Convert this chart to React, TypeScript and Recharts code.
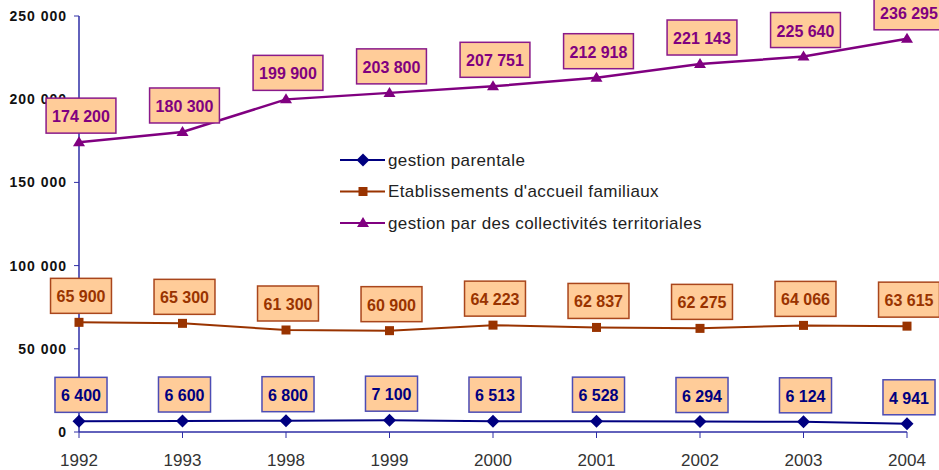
import React from 'react'
import { LineChart, Line, XAxis, YAxis, LabelList } from 'recharts'

const years = ['1992', '1993', '1998', '1999', '2000', '2001', '2002', '2003', '2004']
const parentale = [6400, 6600, 6800, 7100, 6513, 6528, 6294, 6124, 4941]
const familiaux = [65900, 65300, 61300, 60900, 64223, 62837, 62275, 64066, 63615]
const collectivites = [174200, 180300, 199900, 203800, 207751, 212918, 221143, 225640, 236295]
const yTicks = [0, 50000, 100000, 150000, 200000, 250000]

const FONT = 'Arial, "Liberation Sans", sans-serif'
const AXIS = '#2e2ea6'
const BOX_FILL = '#FFCC99'

const series = [
  { key: 'parentale', name: 'gestion parentale', color: '#000080', border: '#4c4cb4', shape: 'diamond' },
  { key: 'familiaux', name: "Etablissements d'accueil familiaux", color: '#993300', border: '#a9461c', shape: 'square' },
  { key: 'collectivites', name: 'gestion par des collectivités territoriales', color: '#800080', border: '#8a1a8a', shape: 'triangle' },
]

const data = years.map((y, i) => ({
  year: y,
  parentale: parentale[i],
  familiaux: familiaux[i],
  collectivites: collectivites[i],
}))

const fmt = (v: number) => String(v).replace(/\B(?=(\d{3})+(?!\d))/g, ' ')

let ctx: CanvasRenderingContext2D | null = null
function textWidth(s: string, font: string) {
  if (!ctx) ctx = document.createElement('canvas').getContext('2d')
  if (!ctx) return s.length * 9
  ctx.font = font
  return ctx.measureText(s).width
}

function Marker({ shape, cx, cy, color }: any) {
  if (cx == null || cy == null) return null
  if (shape === 'diamond') {
    const r = 6.5
    return <path d={`M${cx},${cy - r}L${cx + r},${cy}L${cx},${cy + r}L${cx - r},${cy}Z`} fill={color} />
  }
  if (shape === 'square') {
    return <rect x={cx - 4.5} y={cy - 4.5} width={9} height={9} fill={color} />
  }
  return <path d={`M${cx},${cy - 6}L${cx + 6},${cy + 4}L${cx - 6},${cy + 4}Z`} fill={color} />
}

const makeDot = (shape: string, color: string) => (p: any) => (
  <Marker key={`d-${p.index}`} shape={shape} cx={p.cx} cy={p.cy} color={color} />
)

const makeLabel = (color: string, border: string) => (p: any) => {
  const { x, y, value, index } = p
  if (x == null || y == null) return null
  const txt = fmt(value)
  const w = textWidth(txt, `bold 16px Arial, "Liberation Sans"`) + 12
  const h = 35
  const cx = x + 2
  const bottom = y - 9
  return (
    <g key={`l-${index}`}>
      <rect x={cx - w / 2} y={bottom - h} width={w} height={h} fill={BOX_FILL} stroke={border} strokeWidth={1.5} />
      <text x={cx} y={bottom - h / 2 + 1} textAnchor="middle" dominantBaseline="central" fill={color}
        style={{ fontFamily: FONT, fontSize: 16, fontWeight: 'bold' }}>
        {txt}
      </text>
    </g>
  )
}

function LegendBox() {
  return (
    <svg width={440} height={100} style={{ position: 'absolute', left: 338, top: 148 }}>
      {series.map((s, i) => {
        const cy = 12 + i * 31.5
        return (
          <g key={s.key}>
            <line x1={2} x2={47} y1={cy} y2={cy} stroke={s.color} strokeWidth={2} />
            <Marker shape={s.shape} cx={25} cy={cy} color={s.color} />
            <text x={50} y={cy} dominantBaseline="central" fill="#222"
              style={{ fontFamily: FONT, fontSize: 17, letterSpacing: 0.4 }}>{s.name}</text>
          </g>
        )
      })}
    </svg>
  )
}

export default function App() {
  return (
    <div style={{ position: 'absolute', left: 0, top: 0, width: 939, height: 470, background: '#fff' }}>
      <style>{`body{margin:0}`}</style>
      <LineChart width={939} height={470} data={data} margin={{ top: 16, right: 32, left: 0, bottom: 0 }}>
        <XAxis dataKey="year" height={38} axisLine={{ stroke: AXIS, strokeWidth: 1.5 }} tickLine={{ stroke: AXIS }}
          tickSize={6} tickMargin={16} interval={0}
          tick={{ fill: '#333', fontSize: 17, fontFamily: FONT }} />
        <YAxis width={79} domain={[0, 250000]} ticks={yTicks} tickFormatter={fmt} interval={0}
          axisLine={{ stroke: AXIS, strokeWidth: 1.5 }} tickLine={{ stroke: AXIS }} tickSize={5} tickMargin={7}
          tick={{ fill: '#111', fontSize: 14, fontWeight: 'bold', fontFamily: FONT, letterSpacing: 1 }} />
        {series.map(s => (
          <Line key={s.key} dataKey={s.key} name={s.name} stroke={s.color} strokeWidth={s.key === 'collectivites' ? 2.5 : 2}
            dot={makeDot(s.shape, s.color)} activeDot={false} isAnimationActive={false}>
            <LabelList dataKey={s.key} content={makeLabel(s.color, s.border)} />
          </Line>
        ))}
      </LineChart>
      <LegendBox />
    </div>
  )
}
